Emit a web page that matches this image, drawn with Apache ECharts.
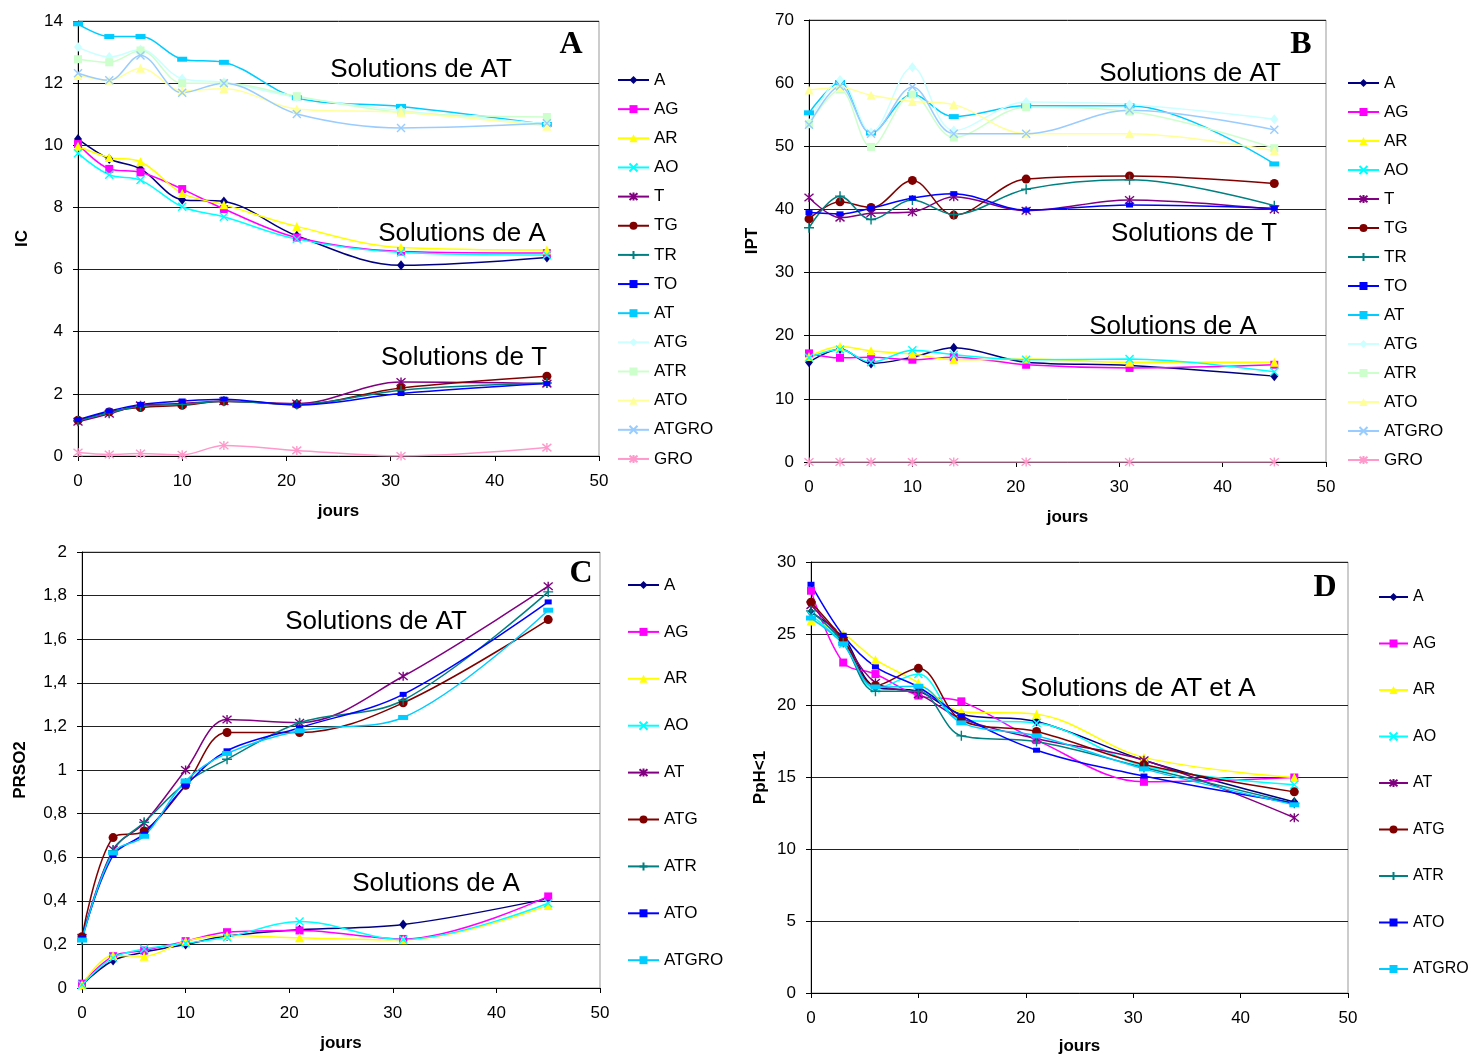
<!DOCTYPE html>
<html><head><meta charset="utf-8">
<script src="https://cdn.jsdelivr.net/npm/echarts@6/dist/echarts.min.js"></script>
<style>html,body{margin:0;padding:0;background:#fff}#c{width:1470px;height:1056px}</style>
</head><body><div id="c"></div><script>
// ---- data ----
const DAYS = [0, 3, 6, 10, 14, 21, 31, 45];
const X_TICKS = [0, 10, 20, 30, 40, 50];

const NAMES_AB = ['A','AG','AR','AO','T','TG','TR','TO','AT','ATG','ATR','ATO','ATGRO','GRO'];
const NAMES_CD = ['A','AG','AR','AO','AT','ATG','ATR','ATO','ATGRO'];

// Panel A : IC
const IC_A     = [10.2, 9.56, 9.24, 8.25, 8.19, 7.09, 6.14, 6.39];
const IC_AG    = [10.04, 9.24, 9.13, 8.59, 7.95, 7.03, 6.58, 6.53];
const IC_AR    = [9.97, 9.61, 9.47, 8.45, 8.09, 7.39, 6.71, 6.63];
const IC_AO    = [9.74, 9.05, 8.88, 8.02, 7.70, 6.98, 6.55, 6.47];
const IC_T     = [1.10, 1.36, 1.63, 1.69, 1.76, 1.69, 2.38, 2.33];
const IC_TG    = [1.15, 1.42, 1.56, 1.63, 1.76, 1.66, 2.19, 2.57];
const IC_TR    = [1.13, 1.39, 1.60, 1.66, 1.76, 1.66, 2.12, 2.35];
const IC_TO    = [1.17, 1.45, 1.66, 1.77, 1.83, 1.64, 2.01, 2.33];
const IC_AT    = [13.91, 13.5, 13.5, 12.77, 12.67, 11.53, 11.25, 10.67];
const IC_ATG   = [13.16, 12.84, 13.08, 12.14, 12.03, 11.55, 11.12, 10.69];
const IC_ATR   = [12.77, 12.67, 13.05, 12.0, 12.0, 11.58, 11.06, 10.91];
const IC_ATO   = [12.25, 12.09, 12.48, 11.76, 11.82, 11.17, 11.06, 10.61];
const IC_ATGRO = [12.32, 12.09, 12.89, 11.69, 12.0, 11.01, 10.56, 10.71];
const IC_GRO   = [0.11, 0.05, 0.08, 0.04, 0.34, 0.18, 0.0, 0.27];

// Panel B : IPT
const IPT_A     = [15.8, 17.9, 15.6, 16.6, 18.1, 15.8, 15.3, 13.6];
const IPT_AG    = [17.2, 16.5, 16.6, 16.2, 16.6, 15.4, 14.9, 15.4];
const IPT_AR    = [16.7, 18.3, 17.6, 17.1, 16.2, 16.3, 15.8, 15.8];
const IPT_AO    = [16.5, 17.8, 15.8, 17.7, 17.0, 16.2, 16.3, 14.3];
const IPT_T     = [41.9, 38.7, 39.4, 39.6, 42.0, 39.8, 41.5, 40.0];
const IPT_TG    = [38.5, 41.2, 40.3, 44.6, 39.1, 44.8, 45.3, 44.1];
const IPT_TR    = [37.1, 42.1, 38.4, 41.5, 39.2, 43.2, 44.7, 40.6];
const IPT_TO    = [39.5, 39.3, 40.2, 41.8, 42.5, 39.9, 40.7, 40.2];
const IPT_AT    = [55.3, 60.1, 52.1, 58.2, 54.7, 56.4, 56.4, 47.2];
const IPT_ATG   = [53.7, 60.5, 52.2, 62.5, 52.5, 57.0, 56.6, 54.3];
const IPT_ATR   = [53.5, 59.0, 49.9, 58.2, 51.4, 56.2, 55.5, 49.7];
const IPT_ATO   = [58.9, 59.3, 58.1, 57.1, 56.6, 52.0, 52.0, 49.3];
const IPT_ATGRO = [53.4, 59.5, 52.0, 59.4, 52.0, 52.0, 55.7, 52.6];
const IPT_GRO   = [0, 0, 0, 0, 0, 0, 0, 0];

// Panel C : PRSO2
const PR_A     = [0.015, 0.126, 0.164, 0.20, 0.238, 0.267, 0.291, 0.41];
const PR_AG    = [0.02, 0.146, 0.172, 0.215, 0.256, 0.264, 0.225, 0.42];
const PR_AR    = [0.015, 0.149, 0.146, 0.215, 0.241, 0.23, 0.221, 0.379];
const PR_AO    = [0.015, 0.138, 0.179, 0.205, 0.233, 0.305, 0.222, 0.389];
const PR_AT    = [0.23, 0.635, 0.757, 1.0, 1.232, 1.217, 1.43, 1.843];
const PR_ATG   = [0.235, 0.69, 0.72, 0.93, 1.172, 1.172, 1.308, 1.69];
const PR_ATR   = [0.22, 0.63, 0.76, 0.94, 1.049, 1.217, 1.32, 1.817];
const PR_ATO   = [0.23, 0.608, 0.708, 0.928, 1.088, 1.194, 1.347, 1.771];
const PR_ATGRO = [0.22, 0.62, 0.696, 0.95, 1.076, 1.18, 1.241, 1.733];

// Panel D : PpH<1
const PH_A     = [26.5, 24.8, 21.3, 21.0, 19.4, 18.9, 16.2, 13.3];
const PH_AG    = [28.0, 23.0, 22.2, 20.7, 20.3, 17.6, 14.7, 15.0];
const PH_AR    = [25.9, 25.0, 23.2, 21.6, 19.6, 19.4, 16.4, 15.0];
const PH_AO    = [26.3, 24.3, 21.2, 22.2, 19.0, 18.8, 15.8, 14.5];
const PH_AT    = [27.0, 24.5, 21.6, 20.8, 19.1, 17.7, 16.2, 12.2];
const PH_ATG   = [27.2, 24.6, 21.4, 22.6, 19.0, 18.2, 15.9, 14.0];
const PH_ATR   = [26.6, 24.4, 21.0, 21.0, 17.9, 17.5, 15.7, 13.2];
const PH_ATO   = [28.45, 24.9, 22.7, 21.3, 19.3, 16.9, 15.1, 13.2];
const PH_ATGRO = [26.1, 24.3, 21.3, 21.35, 18.8, 17.9, 15.6, 13.1];

// ---- styles ----
const FONT = 'Liberation Sans, Arial, sans-serif';
const SYM = {
  diamond:  {symbol: 'diamond', size: [8, 10]},
  square:   {symbol: 'rect', size: 8},
  triangle: {symbol: 'triangle', size: 9},
  cross:    {symbol: 'path://M0,0L10,10M10,0L0,10', size: 8, stroke: true},
  star:     {symbol: 'path://M0,0L10,10M10,0L0,10M5,-1L5,11', size: 9, stroke: true},
  circle:   {symbol: 'circle', size: 9},
  plus:     {symbol: 'path://M5,0L5,10M0,5L10,5', size: 10, stroke: true},
  smallsq:  {symbol: 'rect', size: [7, 5]},
  dash:     {symbol: 'rect', size: [10, 5]}
};
const STYLE_AB = [
  ['#000080','diamond'],['#FF00FF','square'],['#FFFF00','triangle'],['#00FFFF','cross'],
  ['#800080','star'],['#800000','circle'],['#008080','plus'],['#0000FF','smallsq'],
  ['#00CCFF','dash'],['#CCFFFF','diamond'],['#CCFFCC','square'],['#FFFF99','triangle'],
  ['#99CCFF','cross'],['#FF99CC','star']
];
const STYLE_CD = [
  ['#000080','diamond'],['#FF00FF','square'],['#FFFF00','triangle'],['#00FFFF','cross'],
  ['#800080','star'],['#800000','circle'],['#008080','plus'],['#0000FF','smallsq'],
  ['#00CCFF','dash']
];

const panels = [
  {grid:{left:78, top:21, width:521, height:435}, max:14, interval:2, yName:'IC', yGap:47, xGap:47,
   names:NAMES_AB, styles:STYLE_AB,
   values:[IC_A,IC_AG,IC_AR,IC_AO,IC_T,IC_TG,IC_TR,IC_TO,IC_AT,IC_ATG,IC_ATR,IC_ATO,IC_ATGRO,IC_GRO],
   legend:{left:617, top:71.5, gap:12.15, font:17, w:31}},
  {grid:{left:809, top:20, width:517, height:442}, max:70, interval:10, yName:'IPT', yGap:48, xGap:47,
   names:NAMES_AB, styles:STYLE_AB,
   values:[IPT_A,IPT_AG,IPT_AR,IPT_AO,IPT_T,IPT_TG,IPT_TR,IPT_TO,IPT_AT,IPT_ATG,IPT_ATR,IPT_ATO,IPT_ATGRO,IPT_GRO],
   legend:{left:1347, top:74.5, gap:12, font:17, w:31}},
  {grid:{left:82, top:552, width:518, height:436}, max:2, interval:0.2, yName:'PRSO2', yGap:53, xGap:47,
   names:NAMES_CD, styles:STYLE_CD,
   values:[PR_A,PR_AG,PR_AR,PR_AO,PR_AT,PR_ATG,PR_ATR,PR_ATO,PR_ATGRO],
   legend:{left:627, top:576.5, gap:29.9, font:17, w:31}},
  {grid:{left:811, top:562, width:537, height:431}, max:30, interval:5, yName:'PpH<1', yGap:42, xGap:45,
   names:NAMES_CD, styles:STYLE_CD,
   values:[PH_A,PH_AG,PH_AR,PH_AO,PH_AT,PH_ATG,PH_ATR,PH_ATO,PH_ATGRO],
   legend:{left:1378, top:589, gap:30.5, font:16, w:29}}
];

const grids = [], xAxes = [], yAxes = [], series = [], legends = [];
panels.forEach((p, pi) => {
  grids.push(Object.assign({show:true, borderColor:'#999', borderWidth:1, containLabel:false}, p.grid));
  xAxes.push({type:'value', gridIndex:pi, min:X_TICKS[0], max:X_TICKS[X_TICKS.length-1], interval:10,
    axisLine:{show:true, onZero:false, lineStyle:{color:'#000', width:1}},
    axisTick:{show:true, length:5, lineStyle:{color:'#000'}},
    axisLabel:{fontSize:17, color:'#000', margin:17, fontFamily:FONT},
    splitLine:{show:false},
    name:'jours', nameLocation:'middle', nameGap:p.xGap,
    nameTextStyle:{fontWeight:'bold', fontSize:17, color:'#000', fontFamily:FONT}});
  yAxes.push({type:'value', gridIndex:pi, min:0, max:p.max, interval:p.interval,
    axisLine:{show:true, onZero:false, lineStyle:{color:'#000', width:1}},
    axisTick:{show:true, length:5, lineStyle:{color:'#000'}},
    axisLabel:{fontSize:17, color:'#000', margin:15, fontFamily:FONT,
      formatter: v => String(Math.round(v*10)/10).replace('.', ',')},
    splitLine:{show:true, lineStyle:{color:'#222', width:1}},
    name:p.yName, nameLocation:'middle', nameGap:p.yGap,
    nameTextStyle:{fontWeight:'bold', fontSize:17, color:'#000', fontFamily:FONT}});
  const legendNames = [];
  p.names.forEach((n, si) => {
    const [color, symKey] = p.styles[si];
    const s = SYM[symKey];
    const sname = n + '#' + pi;
    legendNames.push(sname);
    series.push({
      type:'line', name:sname, xAxisIndex:pi, yAxisIndex:pi,
      data: DAYS.map((d, k) => [d, p.values[si][k]]),
      smooth:0.35, symbol:s.symbol, symbolSize:s.size, showAllSymbol:true,
      lineStyle:{color:color, width:1.5},
      itemStyle: s.stroke ? {color:color, borderColor:color, borderWidth:1.4}
                          : {color:color, borderWidth:0},
      emphasis:{disabled:true}, animation:false, z: 3
    });
  });
  legends.push({orient:'vertical', left:p.legend.left, top:p.legend.top, itemGap:p.legend.gap,
    padding:0, itemWidth:p.legend.w, itemHeight:10, data:legendNames, selectedMode:false,
    formatter: n => n.split('#')[0],
    textStyle:{fontSize:p.legend.font, color:'#000', fontFamily:FONT}});
});

function txt(t, x, y, size, bold, serif) {
  return {type:'text', x:x, y:y, z:100, silent:true,
    style:{text:t, fontSize:size, fontWeight: bold ? 'bold' : 'normal',
      fontFamily: serif ? 'Liberation Serif, Times New Roman, serif' : FONT,
      fill:'#000', align:'center', verticalAlign:'middle'}};
}
const graphic = [
  txt('A', 571, 45, 32, true, true),
  txt('B', 1301, 45, 32, true, true),
  txt('C', 581, 574, 32, true, true),
  txt('D', 1325, 588, 32, true, true),
  txt('Solutions de AT', 421, 70, 26),
  txt('Solutions de A', 462, 234, 26),
  txt('Solutions de T', 464, 358, 26),
  txt('Solutions de AT', 1190, 74, 26),
  txt('Solutions de T', 1194, 234, 26),
  txt('Solutions de A', 1173, 327, 26),
  txt('Solutions de AT', 376, 622, 26),
  txt('Solutions de A', 436, 884, 26),
  txt('Solutions de AT et A', 1138, 689, 26)
];

const chart = echarts.init(document.getElementById('c'), null, {renderer:'canvas'});
chart.setOption({
  animation:false, backgroundColor:'#fff',
  grid:grids, xAxis:xAxes, yAxis:yAxes, series:series, legend:legends, graphic:graphic
});
</script></body></html>
